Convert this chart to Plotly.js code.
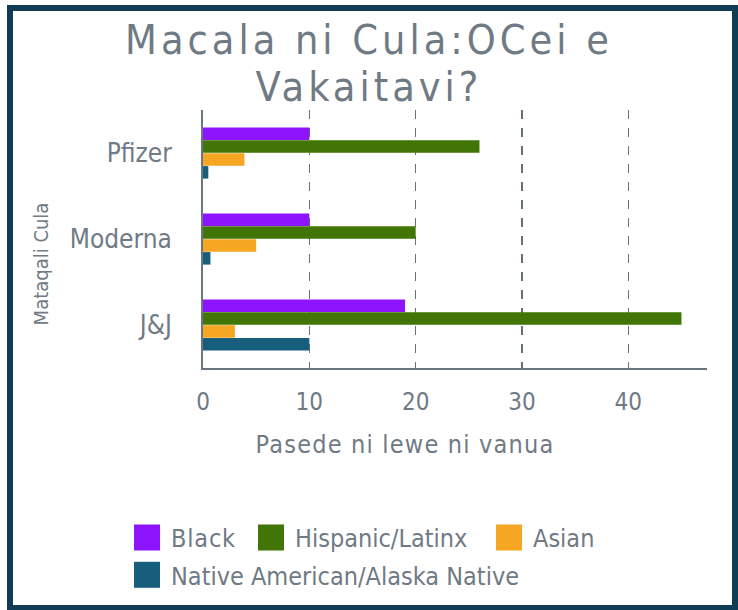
<!DOCTYPE html>
<html>
<head>
<meta charset="utf-8">
<script src="https://cdn.plot.ly/plotly-3.0.1.min.js"></script>
<style>
  html, body { margin: 0; padding: 0; background: #ffffff; }
  #wrap { position: relative; width: 738px; height: 610px; overflow: hidden; }
  #chart { position: absolute; left: 0; top: 0; width: 738px; height: 610px; }
  #frame { position: absolute; left: 7px; top: 5px; width: 731px; height: 606px;
           box-sizing: border-box; border: 6px solid #0f3d56; pointer-events: none; }
  .gtitle { letter-spacing: 4px; }
  .xtitle { letter-spacing: 1.2px; }
  .legendtext { letter-spacing: 0.8px; }
</style>
</head>
<body>
<div id="wrap">
  <div id="chart"></div>
  <div id="frame"></div>
</div>
<script>
// ---- data ----
const vaccines = ["Pfizer", "Moderna", "J&J"];
const seriesNames = ["Black", "Hispanic/Latinx", "Asian", "Native American/Alaska Native"];
const black    = [10, 10, 19];
const hispanic = [26, 20, 45];
const asian    = [3.9, 5, 3];
const native   = [0.5, 0.7, 10];
const xTicks   = [0, 10, 20, 30, 40];

const colors = ["#8e14fd", "#417505", "#f5a623", "#175e7c"];
const values = [black, hispanic, asian, native];
const legendIds = ["legend", "legend2", "legend3", "legend4"];
const textColor = "#6f7a85";
const font = "DejaVu Sans Condensed, DejaVu Sans, sans-serif";

const traces = values.map((v, i) => ({
  type: "bar",
  orientation: "h",
  name: seriesNames[i],
  y: vaccines,
  x: v,
  legend: legendIds[i],
  marker: { color: colors[i] },
  hoverinfo: "x+name"
}));

function legendAt(x, y) {
  return {
    orientation: "h",
    xref: "container", yref: "container",
    x: x, xanchor: "left",
    y: y, yanchor: "top",
    itemwidth: 38,
    font: { family: font, size: 25, color: textColor },
    bgcolor: "rgba(0,0,0,0)",
    borderwidth: 0
  };
}

const layout = {
  width: 738,
  height: 610,
  margin: { l: 203, r: 31, t: 110, b: 242, pad: 0, autoexpand: false },
  paper_bgcolor: "#ffffff",
  plot_bgcolor: "#ffffff",
  barmode: "group",
  bargap: 0.4,
  bargroupgap: 0.03,
  title: {
    text: "Macala ni Cula:OCei e<br>Vakaitavi?",
    font: { family: font, size: 41, color: textColor },
    x: 0.5, xanchor: "center",
    y: 0.912, yanchor: "top", yref: "container"
  },
  font: { family: font, color: textColor },
  xaxis: {
    range: [0, 47.4],
    tickvals: xTicks,
    ticktext: xTicks.map(String),
    showgrid: true,
    gridcolor: "#66707a",
    griddash: "dash",
    gridwidth: 1.5,
    zeroline: false,
    showline: true,
    linecolor: "#6b757f",
    linewidth: 2,
    ticks: "outside",
    ticklen: 11,
    tickcolor: "rgba(0,0,0,0)",
    tickfont: { family: font, size: 24, color: textColor },
    title: { text: "Pasede ni lewe ni vanua", standoff: 21,
             font: { family: font, size: 25, color: textColor } },
    automargin: false,
    fixedrange: true
  },
  yaxis: {
    categoryorder: "array",
    categoryarray: vaccines,
    autorange: "reversed",
    showgrid: false,
    zeroline: false,
    showline: true,
    linecolor: "#6b757f",
    linewidth: 2,
    ticks: "outside",
    ticklen: 24,
    tickcolor: "rgba(0,0,0,0)",
    tickfont: { family: font, size: 26, color: textColor },
    title: { text: "Mataqali Cula", standoff: 16,
             font: { family: font, size: 20, color: textColor } },
    automargin: false,
    fixedrange: true
  },
  showlegend: true,
  legend:  legendAt(0.1667, 0.156),
  legend2: legendAt(0.3347, 0.156),
  legend3: legendAt(0.6572, 0.156),
  legend4: legendAt(0.1667, 0.095)
};

Plotly.newPlot("chart", traces, layout, { displayModeBar: false, staticPlot: true }).then(gd => {
  // enlarge legend swatches to match reference squares
  gd.querySelectorAll(".legendpoints path").forEach(p => {
    p.setAttribute("d", "M13,13H-13V-13H13Z");
    p.style.strokeWidth = "0px";
  });
  // tighter title line spacing
  const lines = gd.querySelectorAll(".gtitle tspan.line");
  if (lines.length > 1) lines[1].setAttribute("dy", "1.15em");
  // y-axis title sits a little lower in the reference
  const yt = gd.querySelector(".ytitle");
  if (yt) yt.setAttribute("transform", "translate(0,25) " + (yt.getAttribute("transform") || ""));
  // x-axis title is centred left of the plot centre in the reference
  const xt = gd.querySelector(".xtitle");
  if (xt) xt.setAttribute("transform", "translate(-50,0) " + (xt.getAttribute("transform") || ""));
});
</script>
</body>
</html>
